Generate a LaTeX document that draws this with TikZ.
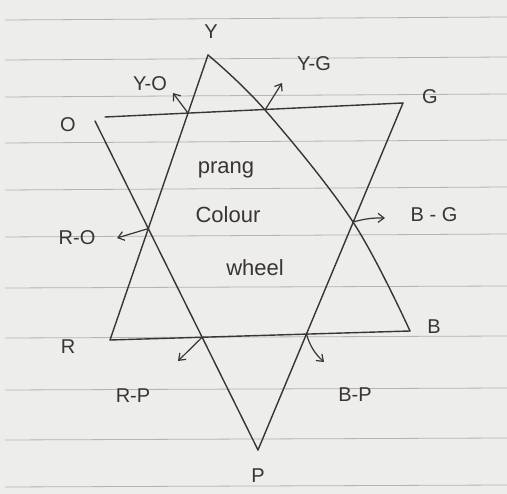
\documentclass[tikz,border=0pt]{standalone}
\usepackage{fontspec}
\setmainfont{Liberation Sans}
\usetikzlibrary{arrows.meta}
\definecolor{ink}{HTML}{3A3434}
\definecolor{paper}{HTML}{EDEDEB}
\definecolor{rule}{HTML}{B4B4B2}
\tikzset{
  edge/.style={draw=ink, line width=1.4pt, line cap=round, line join=round},
  mix/.style={draw=ink, line width=1.2pt, -{Straight Barb[length=6pt,width=9pt]}},
  lbl/.style={text=ink, font=\fontsize{20}{22}\selectfont},
  word/.style={text=ink, font=\fontsize{22}{24}\selectfont},
}
\begin{document}
\begin{tikzpicture}[x=1pt,y=-1pt]
\useasboundingbox (0,0) rectangle (507,494);
\fill[paper] (0,0) rectangle (507,494);
% notebook rules
\foreach \yy/\dd in {20/-3,60/-3,97/-3,143/-3,190/-3,237/-3,288/-2,338/-2,390/-2,440/-2,487/-2}
  \draw[rule, line width=0.8pt] (5,\yy) -- (507,\yy+\dd);
% vertices
\coordinate (Yv) at (208,55);
\coordinate (Rv) at (110,340);
\coordinate (Bv) at (410,331);
\coordinate (Ov) at (95,121);
\coordinate (Oh) at (105,117);
\coordinate (Gv) at (403,103);
\coordinate (Pv) at (258,450);
% crossing points
\coordinate (YO) at (intersection of Yv--Rv and Oh--Gv);
\coordinate (RO) at (intersection of Yv--Rv and Ov--Pv);
\coordinate (RP) at (intersection of Rv--Bv and Ov--Pv);
\coordinate (BP) at (intersection of Rv--Bv and Gv--Pv);
\coordinate (YG) at (265,110);
\coordinate (BG) at (353,222);
% triangles
\draw[edge] (Yv) -- (Rv);
\draw[edge] plot[smooth, tension=0.6] coordinates {(Yv) (YG) (BG) (Bv)};
\draw[edge] (Rv) -- (Bv);
\draw[edge] (Oh) -- (Gv);
\draw[edge] (Ov) -- (Pv);
\draw[edge] (Gv) -- (Pv);
% arrow ends
\coordinate (YOa) at (173,93);
\coordinate (YGa) at (282,83);
\coordinate (ROa) at (117,238);
\coordinate (BGa) at (385,218);
\coordinate (RPa) at (178,361);
\coordinate (BPa) at (324,362);
\draw[mix] (YO) -- (YOa);
\draw[mix] (YG) -- (YGa);
\draw[mix] (RO) -- (ROa);
\draw[mix] (BG) to[bend left=8] (BGa);
\draw[mix] (RP) -- (RPa);
\draw[mix] (BP) to[bend right=15] (BPa);
% vertex labels
\node[lbl] (lY) at (211,32) {Y};
\node[lbl] (lR) at (68,347) {R};
\node[lbl] (lB) at (434,327) {B};
\node[lbl] (lO) at (68,125) {O};
\node[lbl] (lG) at (430,97) {G};
\node[lbl] (lP) at (258,476) {P};
% mixture labels
\node[lbl] (lYO) at (150,84) {Y-O};
\node[lbl] (lYG) at (314,64) {Y-G};
\node[lbl] (lRO) at (77,238) {R-O};
\node[lbl] (lBG) at (434,215) {B - G};
\node[lbl] (lRP) at (133,396) {R-P};
\node[lbl] (lBP) at (355,395) {B-P};
% centre text
\node[word] (w1) at (226,170) {prang};
\node[word] (w2) at (228,215) {Colour};
\node[word] (w3) at (255,268) {wheel};
\end{tikzpicture}
\end{document}
